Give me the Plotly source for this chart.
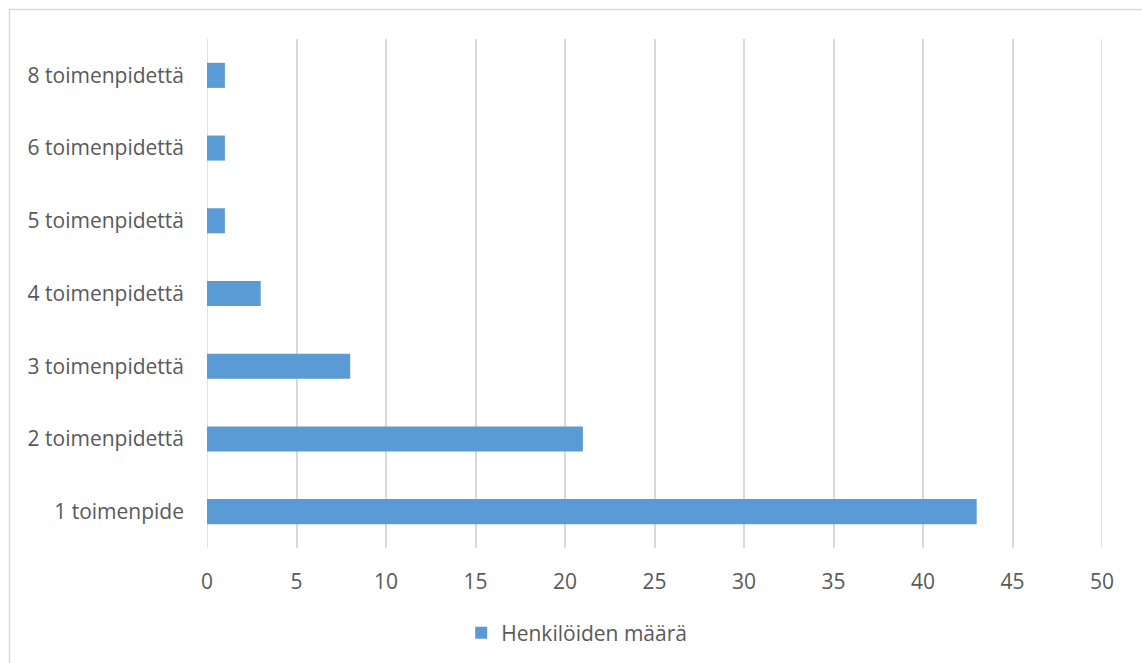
import plotly.graph_objects as go

categories = ["1 toimenpide", "2 toimenpidettä", "3 toimenpidettä", "4 toimenpidettä",
              "5 toimenpidettä", "6 toimenpidettä", "8 toimenpidettä"]
counts = [43, 21, 8, 3, 1, 1, 1]
series_name = "Henkilöiden määrä"
x_ticks = [0, 5, 10, 15, 20, 25, 30, 35, 40, 45, 50]

W, H = 1142, 663
L, R, T, B = 207, 40, 39, 115
plot_w, plot_h = W - L - R, H - T - B
grid_color = "#D9D9D9"


def px_to_paper_x(px):
    return (px - L) / plot_w


def px_to_paper_y(py):
    return (H - B - py) / plot_h


fig = go.Figure(
    go.Bar(
        y=categories,
        x=counts,
        orientation="h",
        name=series_name,
        marker=dict(color="#5B9BD5", line=dict(width=0)),
        showlegend=True,
    )
)

font_family = "Open Sans, DejaVu Sans, sans-serif"
text_size = 21

# plotly skips grid lines sitting exactly on the plot edges, so add those two
edge_grid = [
    dict(type="line", xref="x", yref="paper", x0=v, x1=v, y0=0, y1=1,
         layer="below", line=dict(color=grid_color, width=1.5))
    for v in (x_ticks[0], x_ticks[-1])
]

# chart-area frame (top and left edges)
frame = [
    dict(type="line", xref="paper", yref="paper",
         x0=px_to_paper_x(9), x1=px_to_paper_x(W + 5),
         y0=px_to_paper_y(9.5), y1=px_to_paper_y(9.5),
         line=dict(color=grid_color, width=1.5)),
    dict(type="line", xref="paper", yref="paper",
         x0=px_to_paper_x(9.5), x1=px_to_paper_x(9.5),
         y0=px_to_paper_y(9), y1=px_to_paper_y(H + 5),
         line=dict(color=grid_color, width=1.5)),
]

fig.update_layout(
    width=W,
    height=H,
    margin=dict(l=L, r=R, t=T, b=B),
    paper_bgcolor="white",
    plot_bgcolor="white",
    bargap=0.655,
    font=dict(family=font_family, size=text_size, color="#595959"),
    xaxis=dict(
        range=[x_ticks[0], x_ticks[-1]],
        tickvals=x_ticks,
        showgrid=True,
        gridcolor=grid_color,
        gridwidth=1.5,
        zeroline=False,
        showline=False,
        ticks="",
        ticklabelstandoff=19,
        tickfont=dict(size=text_size, color="#595959"),
    ),
    yaxis=dict(
        categoryorder="array",
        categoryarray=categories,
        showgrid=False,
        zeroline=False,
        showline=False,
        ticks="",
        ticklabelstandoff=22,
        tickfont=dict(size=text_size, color="#595959"),
    ),
    legend=dict(
        orientation="h",
        xref="container",
        yref="container",
        x=0.505,
        xanchor="center",
        y=1 - 633 / H,
        yanchor="middle",
        font=dict(size=text_size, color="#595959"),
        itemwidth=30,
    ),
    shapes=edge_grid + frame,
)

fig.write_html("out.html")
